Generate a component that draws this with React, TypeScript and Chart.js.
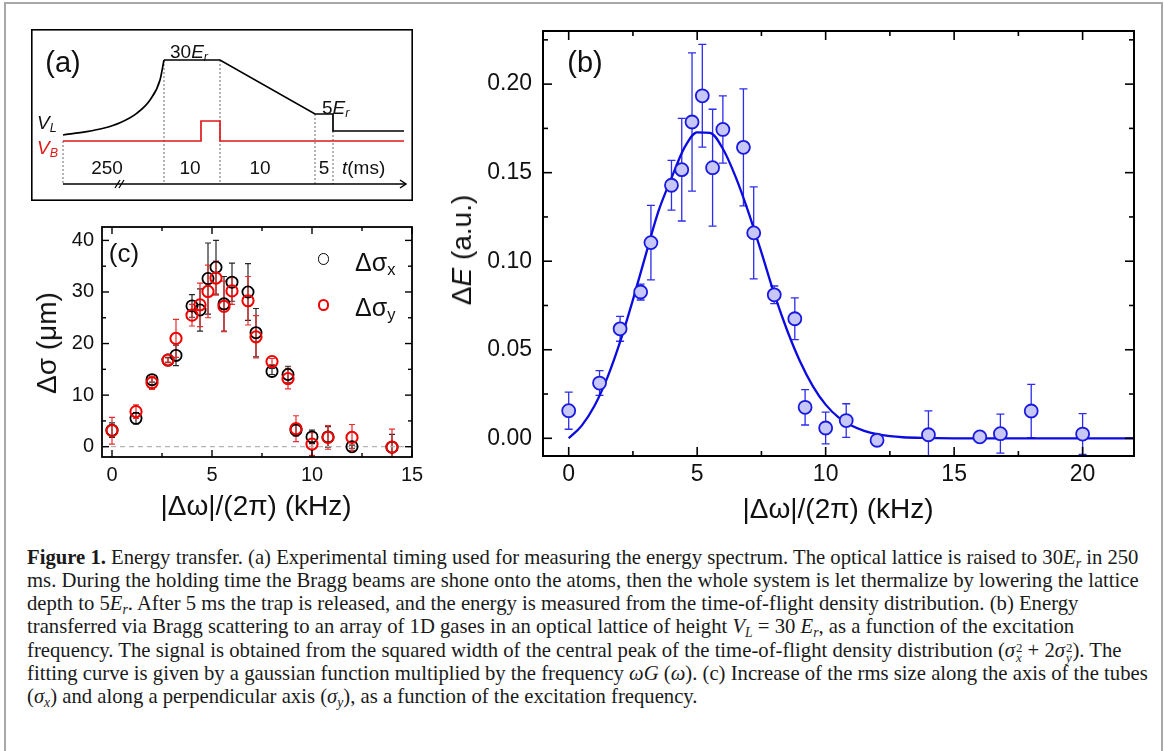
import React, { useEffect, useRef } from 'react';
import { Chart, registerables } from 'chart.js';

Chart.register(...registerables);

const SANS = '"Liberation Sans", Arial, Helvetica, sans-serif';
const SERIF = '"Liberation Serif", "Times New Roman", serif';

// ---------- Panel (a): timing schematic (schematic time units / level units) ----------
const aRampT = [0, 23.7, 40.3, 57, 73.7, 87, 97, 101];
const aRampV = [6, 9.3, 12.7, 18.3, 27.7, 41, 61, 81];
const aLatticeT = [101, 157, 252, 270, 270, 341];
const aLatticeV = [81, 81, 27, 27, 10, 10];
const aBraggT = [0, 138, 138, 157, 157, 341];
const aBraggV = [0, 0, 20, 20, 0, 0];
const aGuideT = [0, 101, 157, 252, 270];
const aGuideTop = [0, 81, 81, 27, 10];
const aAxisLevel = -43;
const aAxisEnd = 343;
const aArrowT = [337, 343, 337];
const aArrowV = [-39, -43, -47];
const aBreak1T = [52, 57];
const aBreak2T = [56, 61];
const aBreakV = [-47, -39];

// ---------- Panel (b): energy transfer ----------
const bX = [0, 1.2, 2.0, 2.8, 3.2, 4.0, 4.4, 4.8, 5.2, 5.6, 6.0, 6.8, 7.2, 8.0, 8.8, 9.2, 10.0, 10.8, 12.0, 14.0, 16.0, 16.8, 18.0, 20.0];
const bY = [0.0156, 0.0312, 0.0618, 0.0826, 0.1105, 0.1429, 0.1517, 0.1786, 0.1934, 0.1528, 0.1744, 0.1643, 0.116, 0.081, 0.0675, 0.0175, 0.0058, 0.010, -0.0011, 0.002, 0.0008, 0.0026, 0.0154, 0.0024];
const bErr = [0.0105, 0.007, 0.007, 0.0045, 0.021, 0.014, 0.029, 0.039, 0.029, 0.033, 0.019, 0.033, 0.026, 0.005, 0.0118, 0.010, 0.009, 0.0095, 0, 0.0135, 0, 0.011, 0.015, 0.0115];
const bFitX = [0, 0.5, 1, 1.5, 2, 2.5, 3, 3.5, 4, 4.5, 5, 5.5, 6, 6.5, 7, 7.5, 8, 8.5, 9, 9.5, 10, 10.5, 11, 11.5, 12, 12.5, 13, 14, 15, 22];
const bFitY = [0, 0.0070, 0.0182, 0.0341, 0.0544, 0.0782, 0.1037, 0.1285, 0.1470, 0.1640, 0.1728, 0.1725, 0.1635, 0.1475, 0.1275, 0.1050, 0.0815, 0.0610, 0.0435, 0.0295, 0.0190, 0.0118, 0.0072, 0.0042, 0.0023, 0.0012, 0.0006, 0.0002, 0, 0];
const bTicksX = [0, 5, 10, 15, 20];
const bTickLabelsX = ['0', '5', '10', '15', '20'];
const bMinorX = [2.5, 7.5, 12.5, 17.5];
const bTicksY = [0, 0.05, 0.1, 0.15, 0.2];
const bTickLabelsY = ['0.00', '0.05', '0.10', '0.15', '0.20'];
const bMinorY = [0.025, 0.075, 0.125, 0.175, 0.225];

// ---------- Panel (c): rms size increase ----------
const cX = [0, 1.2, 2.0, 2.8, 3.2, 4.0, 4.4, 4.8, 5.2, 5.6, 6.0, 6.8, 7.2, 8.0, 8.8, 9.2, 10.0, 10.8, 12.0, 14.0];
const cSigmaX = [3.2, 5.5, 13.0, 16.8, 17.7, 27.3, 26.5, 32.6, 34.8, 27.7, 31.9, 30.0, 22.1, 14.6, 14.0, 3.2, 1.9, 1.9, 0.0, -0.1];
const cSigmaXErr = [1.4, 1.1, 0.5, 0.5, 2.0, 2.2, 4.1, 6.9, 5.2, 5.3, 3.7, 5.5, 4.7, 0.6, 1.6, 1.1, 1.3, 2.0, 0.3, 2.5];
const cSigmaY = [3.1, 6.8, 12.4, 16.8, 21.0, 25.5, 27.5, 30.1, 32.7, 27.2, 30.2, 28.3, 21.3, 16.5, 13.2, 3.5, 0.5, 1.8, 1.8, -0.1];
const cSigmaYErr = [2.6, 1.3, 1.3, 0.4, 3.7, 2.1, 4.2, 5.1, 3.3, 4.9, 2.6, 4.7, 4.1, 0.6, 2.0, 2.5, 2.2, 2.3, 2.5, 3.5];
const cZeroX = [-0.5, 15];
const cZeroY = [0, 0];
const cTicksX = [0, 5, 10, 15];
const cTickLabelsX = ['0', '5', '10', '15'];
const cMinorX = [2.5, 7.5, 12.5];
const cTicksY = [0, 10, 20, 30, 40];
const cTickLabelsY = ['0', '10', '20', '30', '40'];
const cMinorY = [5, 15, 25, 35];

const pts = (xs: number[], ys: number[]) => xs.map((x, i) => ({ x, y: ys[i] }));

const errorBarPlugin = {
  id: 'errorBars',
  beforeDatasetsDraw(chart: any) {
    const { ctx, chartArea: a } = chart;
    const xs = chart.scales.x, ys = chart.scales.y;
    ctx.save();
    ctx.beginPath();
    ctx.rect(a.left, a.top, a.right - a.left, a.bottom - a.top);
    ctx.clip();
    const sets = chart.data.datasets;
    for (let i = sets.length - 1; i >= 0; i--) {
      const ds = sets[i];
      if (!ds.errors) continue;
      ctx.strokeStyle = ds.errColor;
      ctx.lineWidth = ds.errWidth;
      ds.data.forEach((p: any, j: number) => {
        const e = ds.errors[j];
        if (!e) return;
        const x = xs.getPixelForValue(p.x);
        const y1 = ys.getPixelForValue(p.y + e);
        const y2 = ys.getPixelForValue(p.y - e);
        const c = ds.capHalf;
        ctx.beginPath();
        ctx.moveTo(x, y1); ctx.lineTo(x, y2);
        ctx.moveTo(x - c, y1); ctx.lineTo(x + c, y1);
        ctx.moveTo(x - c, y2); ctx.lineTo(x + c, y2);
        ctx.stroke();
      });
    }
    ctx.restore();
  },
};

const frameTicksPlugin = {
  id: 'frameTicks',
  afterDatasetsDraw(chart: any, _args: any, opts: any) {
    const { ctx, chartArea: a } = chart;
    const xs = chart.scales.x, ys = chart.scales.y;
    ctx.save();
    ctx.strokeStyle = '#000';
    ctx.lineWidth = opts.tickWidth || 1.5;
    const seg = (x1: number, y1: number, x2: number, y2: number) => {
      ctx.beginPath(); ctx.moveTo(x1, y1); ctx.lineTo(x2, y2); ctx.stroke();
    };
    const doX = (vals: number[], len: number) => (vals || []).forEach((v) => {
      const x = xs.getPixelForValue(v);
      seg(x, a.bottom, x, a.bottom - len);
      seg(x, a.top, x, a.top + len);
    });
    const doY = (vals: number[], len: number) => (vals || []).forEach((v) => {
      const y = ys.getPixelForValue(v);
      seg(a.left, y, a.left + len, y);
      seg(a.right, y, a.right - len, y);
    });
    doX(opts.xMajor, opts.major); doX(opts.xMinor, opts.minor);
    doY(opts.yMajor, opts.major); doY(opts.yMinor, opts.minor);
    ctx.lineWidth = opts.frameWidth;
    const ins = opts.inset || 0;
    ctx.strokeRect(a.left + ins, a.top + ins, a.right - a.left - 2 * ins, a.bottom - a.top - 2 * ins);
    ctx.restore();
  },
};

const baseOpts = {
  animation: false,
  responsive: false,
  events: [],
  devicePixelRatio: 1,
};

function PanelA() {
  const ref = useRef<HTMLCanvasElement>(null);
  useEffect(() => {
    const line = (data: any[], color: string, width: number, extra: any = {}) => ({
      data, borderColor: color, borderWidth: width, showLine: true, pointRadius: 0, fill: false, ...extra,
    });
    const datasets: any[] = [
      line(pts(aRampT, aRampV), '#000', 1.7, { cubicInterpolationMode: 'monotone' }),
      line(pts(aLatticeT, aLatticeV), '#000', 1.7),
      line(pts(aBraggT, aBraggV), 'rgb(225,25,25)', 1.7),
      line(pts([0, aAxisEnd], [aAxisLevel, aAxisLevel]), '#000', 1.7),
      line(pts(aArrowT, aArrowV), '#000', 1.5),
      line(pts(aBreak1T, aBreakV), '#000', 1.3),
      line(pts(aBreak2T, aBreakV), '#000', 1.3),
      ...aGuideT.map((t, i) => line(pts([t, t], [aGuideTop[i], aAxisLevel]), 'rgb(140,140,140)', 1.3, { borderDash: [2, 2] })),
    ];
    const chart = new Chart(ref.current!, {
      type: 'scatter',
      data: { datasets },
      options: {
        ...baseOpts,
        layout: { padding: 0 },
        scales: {
          x: { type: 'linear', display: false, min: -32, max: 350 },
          y: { type: 'linear', display: false, min: -60, max: 112 },
        },
        plugins: {
          legend: { display: false },
          tooltip: { enabled: false },
          frameTicks: { frameWidth: 1.6, inset: 0.8, major: 0, minor: 0 },
        },
      } as any,
      plugins: [frameTicksPlugin],
    });
    return () => chart.destroy();
  }, []);
  return <canvas ref={ref} width={382} height={172} style={{ position: 'absolute', left: 31, top: 29 }} />;
}

function PanelB() {
  const ref = useRef<HTMLCanvasElement>(null);
  useEffect(() => {
    const chart = new Chart(ref.current!, {
      type: 'scatter',
      data: {
        datasets: [
          {
            data: pts(bX, bY),
            errors: bErr, errColor: 'rgb(45,45,235)', errWidth: 1.3, capHalf: 4,
            pointRadius: 6.5, pointBackgroundColor: 'rgb(200,200,248)', pointBorderColor: 'rgb(25,25,225)', pointBorderWidth: 1.8,
            showLine: false,
          },
          {
            data: pts(bFitX, bFitY),
            showLine: true, borderColor: 'rgb(10,10,225)', borderWidth: 2.3, pointRadius: 0, fill: false,
            cubicInterpolationMode: 'monotone',
          },
        ] as any,
      },
      options: {
        ...baseOpts,
        layout: { padding: { top: 31, right: 31, left: 0, bottom: 0 } },
        scales: {
          x: {
            type: 'linear', min: -1, max: 22,
            grid: { display: false, drawTicks: false }, border: { display: false },
            afterBuildTicks: (s: any) => { s.ticks = bTicksX.map((v) => ({ value: v })); },
            afterFit: (s: any) => { s.height = 84; },
            ticks: { padding: 5, color: '#111', font: { family: SANS, size: 23 }, maxRotation: 0, callback: (_v: any, i: number) => bTickLabelsX[i] },
          },
          y: {
            type: 'linear', min: -0.01, max: 0.23,
            grid: { display: false, drawTicks: false }, border: { display: false },
            afterBuildTicks: (s: any) => { s.ticks = bTicksY.map((v) => ({ value: v })); },
            afterFit: (s: any) => { s.width = 103; },
            ticks: { padding: 11, color: '#111', font: { family: SANS, size: 23 }, callback: (_v: any, i: number) => bTickLabelsY[i] },
          },
        },
        plugins: {
          legend: { display: false },
          tooltip: { enabled: false },
          frameTicks: { frameWidth: 2, tickWidth: 1.6, major: 9, minor: 5, xMajor: bTicksX, xMinor: bMinorX, yMajor: bTicksY, yMinor: bMinorY },
        },
      } as any,
      plugins: [errorBarPlugin, frameTicksPlugin],
    });
    return () => chart.destroy();
  }, []);
  return <canvas ref={ref} width={725} height={540} style={{ position: 'absolute', left: 440, top: 0 }} />;
}

function PanelC() {
  const ref = useRef<HTMLCanvasElement>(null);
  useEffect(() => {
    const chart = new Chart(ref.current!, {
      type: 'scatter',
      data: {
        datasets: [
          {
            data: pts(cX, cSigmaY),
            errors: cSigmaYErr, errColor: 'rgb(230,45,45)', errWidth: 1.2, capHalf: 3,
            pointRadius: 5.6, pointBackgroundColor: 'rgba(0,0,0,0)', pointBorderColor: 'rgb(240,0,0)', pointBorderWidth: 2,
            showLine: false,
          },
          {
            data: pts(cX, cSigmaX),
            errors: cSigmaXErr, errColor: 'rgb(40,40,40)', errWidth: 1.2, capHalf: 3,
            pointRadius: 5.6, pointBackgroundColor: 'rgba(0,0,0,0)', pointBorderColor: '#000', pointBorderWidth: 1.8,
            showLine: false,
          },
          {
            data: pts(cZeroX, cZeroY),
            showLine: true, borderColor: 'rgb(180,180,180)', borderWidth: 1.3, borderDash: [5, 4], pointRadius: 0, fill: false,
          },
        ] as any,
      },
      options: {
        ...baseOpts,
        layout: { padding: { top: 27, right: 28, left: 0, bottom: 0 } },
        scales: {
          x: {
            type: 'linear', min: -0.5, max: 15,
            grid: { display: false, drawTicks: false }, border: { display: false },
            afterBuildTicks: (s: any) => { s.ticks = cTicksX.map((v) => ({ value: v })); },
            afterFit: (s: any) => { s.height = 53; },
            ticks: { padding: 6, color: '#111', font: { family: SANS, size: 20 }, maxRotation: 0, callback: (_v: any, i: number) => cTickLabelsX[i] },
          },
          y: {
            type: 'linear', min: -2, max: 42.6,
            grid: { display: false, drawTicks: false }, border: { display: false },
            afterBuildTicks: (s: any) => { s.ticks = cTicksY.map((v) => ({ value: v })); },
            afterFit: (s: any) => { s.width = 102; },
            ticks: { padding: 8, color: '#111', font: { family: SANS, size: 20 }, callback: (_v: any, i: number) => cTickLabelsY[i] },
          },
        },
        plugins: {
          legend: { display: false },
          tooltip: { enabled: false },
          frameTicks: { frameWidth: 1.8, tickWidth: 1.4, major: 7, minor: 4, xMajor: cTicksX, xMinor: cMinorX, yMajor: cTicksY, yMinor: cMinorY },
        },
      } as any,
      plugins: [errorBarPlugin, frameTicksPlugin],
    });
    return () => chart.destroy();
  }, []);
  return <canvas ref={ref} width={440} height={310} style={{ position: 'absolute', left: 0, top: 200 }} />;
}

const Sub = ({ children }: any) => (
  <sub style={{ fontSize: '0.66em', verticalAlign: '-0.28em', lineHeight: 0 }}>{children}</sub>
);

const Lbl = ({ x, y, size, children, color = '#111', rotate = false, align = 'center', italic = false }: any) => (
  <div
    style={{
      position: 'absolute', left: x, top: y,
      transform: `translate(${align === 'center' ? '-50%' : '0'}, -50%)${rotate ? ' rotate(-90deg)' : ''}`,
      fontSize: size, lineHeight: 1, whiteSpace: 'nowrap', color, fontFamily: SANS,
      fontStyle: italic ? 'italic' : 'normal',
    }}
  >
    {children}
  </div>
);

const SubSup = ({ sub, sup }: any) => (
  <span style={{ display: 'inline-block', verticalAlign: '-0.4em', lineHeight: '0.75em', fontSize: '0.62em', marginLeft: 1 }}>
    <span style={{ display: 'block' }}>{sup}</span>
    <span style={{ display: 'block' }}><i>{sub}</i></span>
  </span>
);

const captionLines: any[] = [
  <><b>Figure 1.</b> Energy transfer. (a) Experimental timing used for measuring the energy spectrum. The optical lattice is raised to 30<i>E</i><Sub><i>r</i></Sub> in 250</>,
  <>ms. During the holding time the Bragg beams are shone onto the atoms, then the whole system is let thermalize by lowering the lattice</>,
  <>depth to 5<i>E</i><Sub><i>r</i></Sub>. After 5 ms the trap is released, and the energy is measured from the time-of-flight density distribution. (b) Energy</>,
  <>transferred via Bragg scattering to an array of 1D gases in an optical lattice of height <i>V</i><Sub><i>L</i></Sub> = 30 <i>E</i><Sub><i>r</i></Sub>, as a function of the excitation</>,
  <>frequency. The signal is obtained from the squared width of the central peak of the time-of-flight density distribution (<i>σ</i><SubSup sub="x" sup="2" /> + 2<i>σ</i><SubSup sub="y" sup="2" />). The</>,
  <>fitting curve is given by a gaussian function multiplied by the frequency <i>ωG</i> (<i>ω</i>). (c) Increase of the rms size along the axis of the tubes</>,
  <>(<i>σ</i><Sub><i>x</i></Sub>) and along a perpendicular axis (<i>σ</i><Sub><i>y</i></Sub>), as a function of the excitation frequency.</>,
];

export default function App() {
  return (
    <div style={{ position: 'absolute', left: 0, top: 0, width: 1165, height: 751, background: '#fff', overflow: 'hidden', fontFamily: SANS }}>
      <div style={{ position: 'absolute', left: 4, top: 2, width: 1155, height: 800, border: '2px solid #a8a8a8' }} />
      <PanelA />
      <PanelC />
      <PanelB />

      {/* Panel (a) annotations */}
      <Lbl x={63} y={62} size={29}>(a)</Lbl>
      <Lbl x={170} y={51} size={19} align="left">30<i>E</i><Sub><i>r</i></Sub></Lbl>
      <Lbl x={322} y={107} size={19} align="left">5<i>E</i><Sub><i>r</i></Sub></Lbl>
      <Lbl x={37} y={122} size={19} align="left"><i>V</i><Sub><i>L</i></Sub></Lbl>
      <Lbl x={37} y={147} size={19} align="left" color="rgb(225,25,25)"><i>V</i><Sub><i>B</i></Sub></Lbl>
      <Lbl x={107} y={167} size={19}>250</Lbl>
      <Lbl x={190} y={167} size={19}>10</Lbl>
      <Lbl x={260} y={167} size={19}>10</Lbl>
      <Lbl x={324} y={167} size={19}>5</Lbl>
      <Lbl x={342} y={167} size={19} align="left"><i>t</i>(ms)</Lbl>

      {/* Panel (b) labels */}
      <Lbl x={585} y={62} size={29}>(b)</Lbl>
      <Lbl x={462} y={250} size={28} rotate>Δ<i>E</i> (a.u.)</Lbl>
      <Lbl x={838} y={509} size={28}>|Δω|/(2π) (kHz)</Lbl>

      {/* Panel (c) labels */}
      <Lbl x={124} y={253} size={26}>(c)</Lbl>
      <Lbl x={47} y={343} size={28} rotate>Δσ (μm)</Lbl>
      <Lbl x={256} y={506} size={28}>|Δω|/(2π) (kHz)</Lbl>
      <div style={{ position: 'absolute', left: 317.5, top: 253, width: 11.5, height: 11.5, borderRadius: '50%', border: '1.8px solid #000', boxSizing: 'border-box' }} />
      <div style={{ position: 'absolute', left: 317.5, top: 299, width: 11.5, height: 11.5, borderRadius: '50%', border: '2px solid rgb(240,0,0)', boxSizing: 'border-box' }} />
      <Lbl x={355} y={262} size={25} align="left">Δσ<Sub>x</Sub></Lbl>
      <Lbl x={355} y={307} size={25} align="left">Δσ<Sub>y</Sub></Lbl>

      {/* Caption */}
      {captionLines.map((ln, i) => (
        <div
          key={i}
          style={{
            position: 'absolute', left: 27, top: 545.5 + 23.3 * i, height: 23.3, lineHeight: '23.3px',
            fontFamily: SERIF, fontSize: 20.7, color: '#1a1a1a', whiteSpace: 'nowrap',
          }}
        >
          {ln}
        </div>
      ))}
    </div>
  );
}
